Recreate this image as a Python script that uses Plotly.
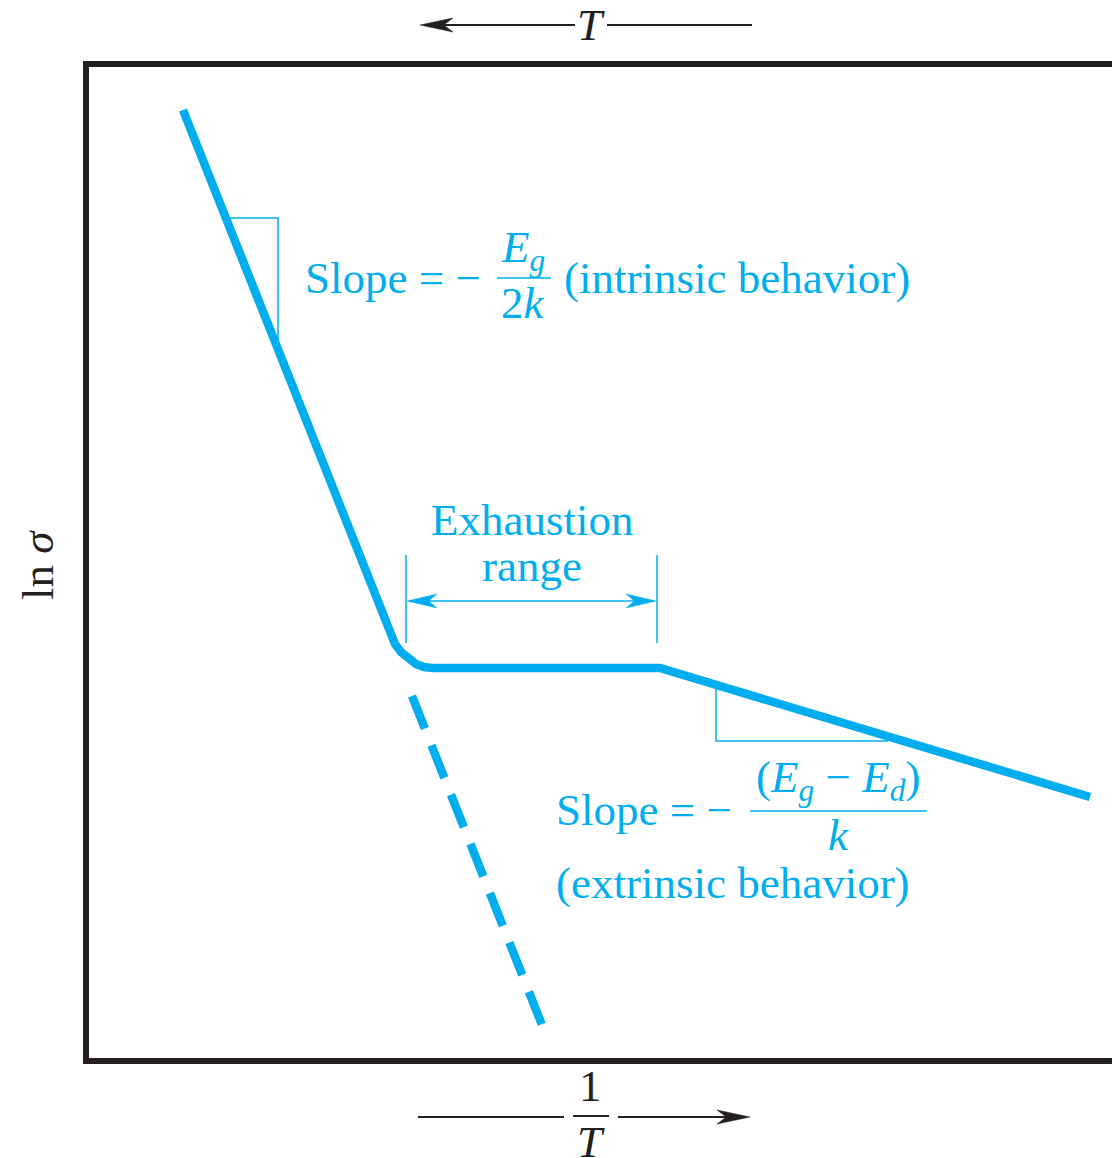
import plotly.graph_objects as go

# ---------------- data (arbitrary units: x = 1/T, y = ln sigma) ----------------
inv_T = [94, 296, 301, 306, 312, 319, 327, 335, 343, 571, 1001]
ln_sigma = [948, 438, 425, 414, 406, 399, 394, 391, 390, 390, 261]

inv_T_extrap = [323, 453]
ln_sigma_extrap = [362, 33]

tri_intr_x = [139, 189, 189]
tri_intr_y = [840, 840, 713]

tri_extr_x = [627, 627, 799]
tri_extr_y = [371, 317, 317]

exh_bounds = [317, 568]
exh_lo, exh_hi, exh_mid = 415, 503, 457

# ---------------- figure geometry ----------------
# page body has an 8px margin, so the figure is shifted back by 8px
OFF = 8
W, H = 1120, 1158 - OFF
L, R, T, B = 89 - OFF, 0, 67 - OFF, 100
PW, PH = W - L - R, H - T - B

CYAN = "#00AEEF"
INK = "#231F20"
SERIF = "Liberation Serif, Times New Roman, serif"
FS = 45


def px(x):
    # reference-picture x pixel -> paper
    return (x - 89) / PW


def py(y):
    # reference-picture y pixel -> paper
    return (1058 - y) / PH


fig = go.Figure()

fig.add_trace(go.Scatter(x=inv_T, y=ln_sigma, mode="lines",
                         line=dict(color=CYAN, width=8.5), hoverinfo="skip"))
fig.add_trace(go.Scatter(x=inv_T_extrap, y=ln_sigma_extrap, mode="lines",
                         line=dict(color=CYAN, width=8.5, dash="35px,18px"),
                         hoverinfo="skip"))
fig.add_trace(go.Scatter(x=tri_intr_x, y=tri_intr_y, mode="lines",
                         line=dict(color=CYAN, width=1.5), hoverinfo="skip"))
fig.add_trace(go.Scatter(x=tri_extr_x, y=tri_extr_y, mode="lines",
                         line=dict(color=CYAN, width=1.5), hoverinfo="skip"))
for xb in exh_bounds:
    fig.add_trace(go.Scatter(x=[xb, xb], y=[exh_lo, exh_hi], mode="lines",
                             line=dict(color=CYAN, width=1.5), hoverinfo="skip"))
fig.add_trace(go.Scatter(x=[exh_bounds[0] + 3, exh_bounds[1] - 3], y=[exh_mid, exh_mid],
                         mode="lines", line=dict(color=CYAN, width=1.5), hoverinfo="skip"))

shapes = []


def head(tx, ty, d, color, length=32, half=7):
    # barbed arrowhead in paper coordinates, tip at pixel (tx, ty), d=+1 points right
    bx = tx - d * length
    nx = tx - d * length * 0.72
    path = (f"M{px(tx)},{py(ty)} L{px(bx)},{py(ty - half)} "
            f"L{px(nx)},{py(ty)} L{px(bx)},{py(ty + half)} Z")
    shapes.append(dict(type="path", xref="paper", yref="paper", path=path,
                       fillcolor=color, line=dict(color=color, width=0.5)))


def hline(x0, x1, y, color, width=1.8):
    shapes.append(dict(type="line", xref="paper", yref="paper",
                       x0=px(x0), x1=px(x1), y0=py(y), y1=py(y),
                       line=dict(color=color, width=width)))


# exhaustion range arrowheads
head(407, 601, -1, CYAN, length=30, half=7)
head(656, 601, 1, CYAN, length=30, half=7)

# top T arrow
hline(440, 575, 25, INK)
hline(607, 752, 25, INK)
head(420, 25, -1, INK, length=33, half=7)

# bottom 1/T arrow
hline(418, 564, 1117, INK)
hline(618, 730, 1117, INK)
head(750, 1117, 1, INK, length=33, half=7)
hline(573, 609, 1116, INK, width=1.8)

# fraction bars
hline(497, 551, 278, CYAN, width=1.5)
hline(750, 927, 811, CYAN, width=1.5)

annotations = []


def text(x, y, s, color=CYAN, size=FS, xanchor="center", angle=0):
    annotations.append(dict(x=px(x), y=py(y), xref="paper", yref="paper", text=s,
                            showarrow=False, xanchor=xanchor, yanchor="middle",
                            textangle=angle,
                            font=dict(family=SERIF, size=size, color=color)))


text(303, 278, "Slope = −", xanchor="left")
text(523, 250, "<i>E<sub>g</sub></i>")
text(523, 303, "2<i>k</i>")
text(562, 278, "(intrinsic behavior)", xanchor="left")

text(532, 520, "Exhaustion")
text(532, 566, "range")

text(554, 810, "Slope = −", xanchor="left")
text(838, 780, "(<i>E<sub>g</sub></i> − <i>E<sub>d</sub></i>)")
text(838, 835, "<i>k</i>")
text(554, 883, "(extrinsic behavior)", xanchor="left")

text(591, 25, "<i>T</i>", color=INK)
text(590, 1086, "1", color=INK)
text(591, 1142, "<i>T</i>", color=INK)
text(38, 565, "ln <i>σ</i>", color=INK, angle=-90)

fig.update_layout(
    width=W, height=H,
    margin=dict(l=L, r=R, t=T, b=B, pad=0),
    paper_bgcolor="white", plot_bgcolor="white",
    showlegend=False,
    shapes=shapes, annotations=annotations,
    xaxis=dict(range=[0, PW], showgrid=False, zeroline=False, showticklabels=False,
               ticks="", showline=True, linewidth=6, linecolor=INK, mirror=True,
               fixedrange=True),
    yaxis=dict(range=[0, PH], showgrid=False, zeroline=False, showticklabels=False,
               ticks="", showline=True, linewidth=6, linecolor=INK, mirror=False,
               fixedrange=True),
)

fig.write_html("out.html")
